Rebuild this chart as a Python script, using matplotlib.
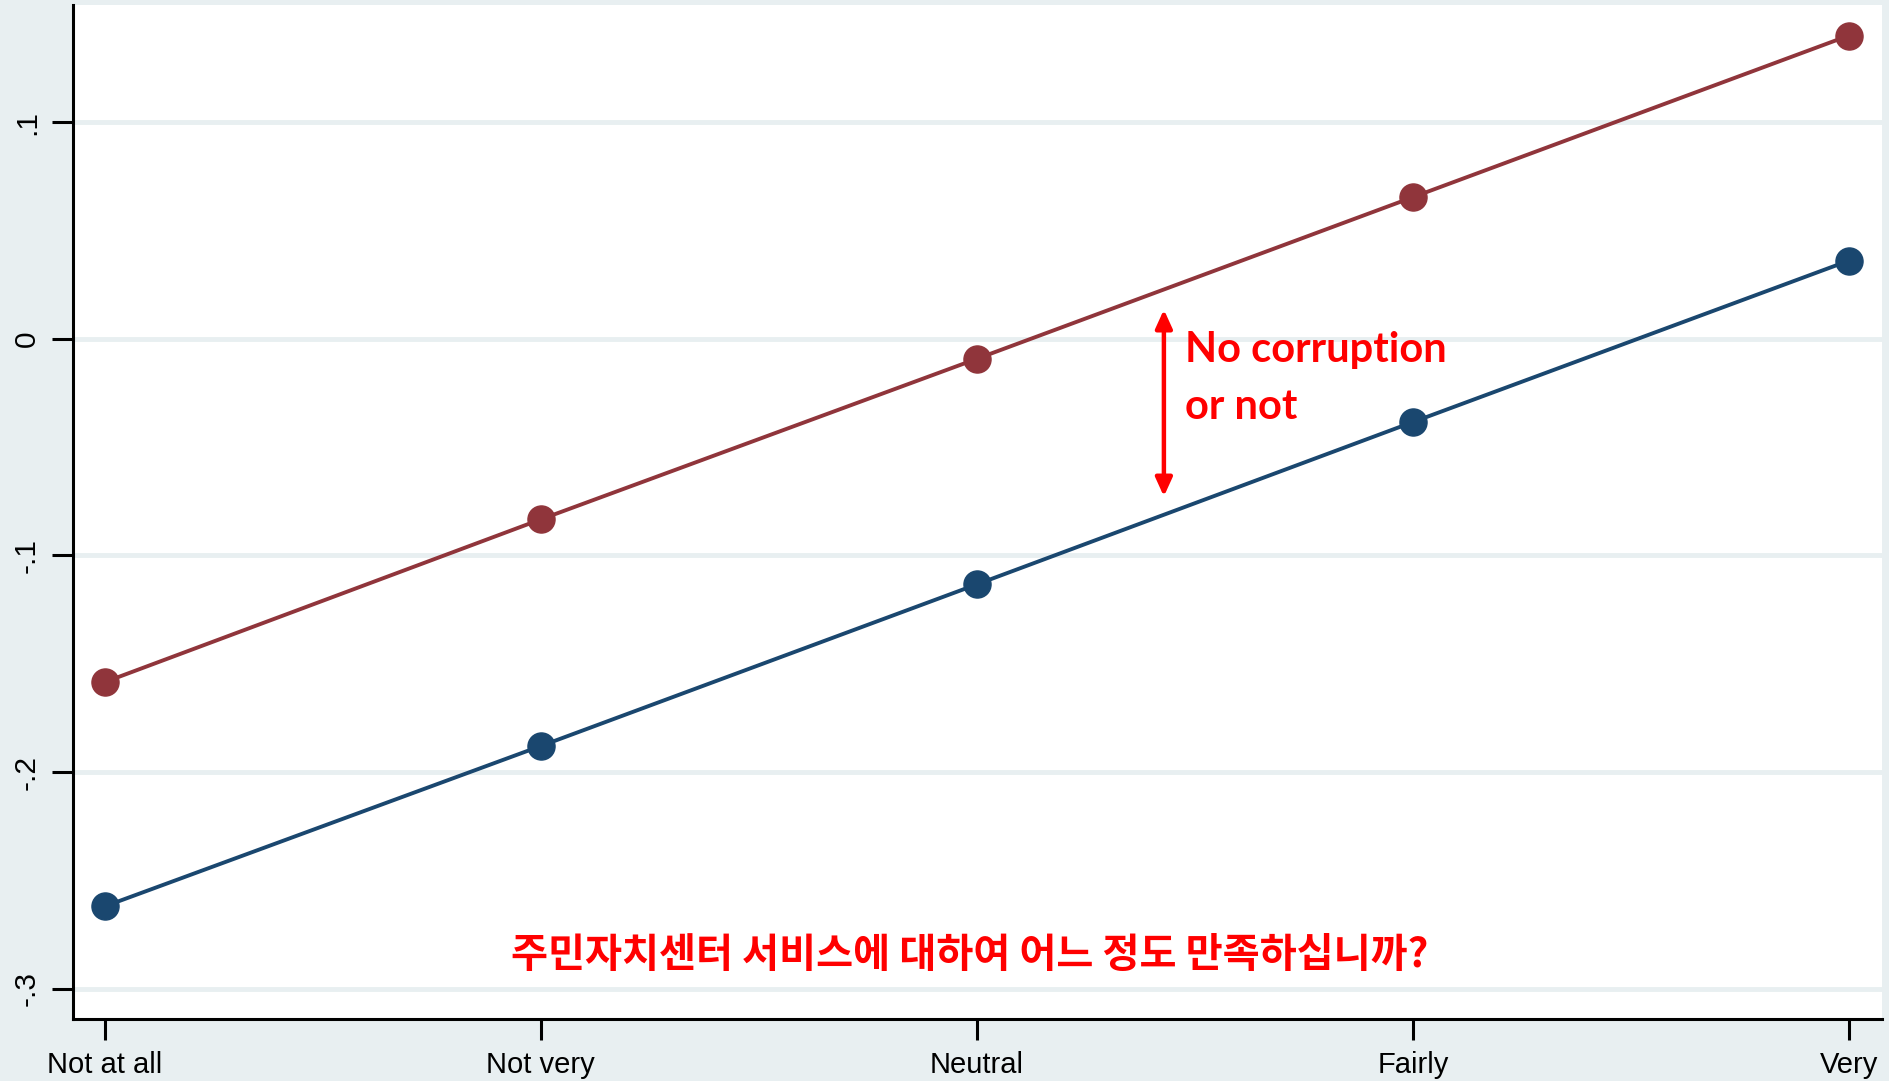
import matplotlib
matplotlib.use("Agg")
import matplotlib.pyplot as plt

categories = ["Not at all", "Not very", "Neutral", "Fairly", "Very"]
no_corruption = [-0.1585, -0.0834, -0.0093, 0.0653, 0.1399]
corruption = [-0.262, -0.188, -0.1134, -0.0385, 0.036]
yticks = [-0.3, -0.2, -0.1, 0, 0.1]
ytick_labels = ["-.3", "-.2", "-.1", "0", ".1"]

bg = "#e8eff1"
red_line = "#90353b"
blue_line = "#1a476f"

fig = plt.figure(figsize=(18.9, 10.81), dpi=100, facecolor=bg)
ax = fig.add_axes([73/1890, 1-1019/1081, (1882-73)/1890, (1019-5)/1081])
ax.set_facecolor("white")

x = list(range(len(categories)))
ax.plot(x, no_corruption, color=red_line, lw=2.8, marker="o", ms=19.5, zorder=3)
ax.plot(x, corruption, color=blue_line, lw=2.8, marker="o", ms=19.5, zorder=3)

ax.set_xlim(-0.073, 4.076)
ax.set_ylim(-0.314, 0.154)
ax.set_xticks(x)
ax.set_xticklabels(categories, fontsize=21, family="Liberation Sans")
ax.set_yticks(yticks)
ax.set_yticklabels(ytick_labels, fontsize=21.5, family="Liberation Sans", rotation=90, va="center")
ax.tick_params(axis="both", length=15, width=2.2, color="black", pad=8)
ax.yaxis.grid(True, color=bg, lw=3.5, zorder=0)
ax.set_axisbelow(True)
for s in ["top", "right"]:
    ax.spines[s].set_visible(False)
for s in ["left", "bottom"]:
    ax.spines[s].set_linewidth(2.2)
    ax.spines[s].set_color("black")

ax.annotate("", xy=(2.429, 0.0134), xytext=(2.429, -0.0728),
            arrowprops=dict(arrowstyle="<|-|>,head_length=1.1,head_width=0.5",
                            color="#ff0000", lw=3.2, shrinkA=0, shrinkB=0), zorder=4)
ax.text(2.477, -0.0051, "No corruption", color="#ff0000", fontsize=30,
        family="Lato", fontweight="bold", va="center", ha="left")
ax.text(2.477, -0.0314, "or not", color="#ff0000", fontsize=30,
        family="Lato", fontweight="bold", va="center", ha="left")
ax.text(1.984, -0.2845, "주민자치센터 서비스에 대하여 어느 정도 만족하십니까?", color="#ff0000",
        fontsize=29, family=["Noto Sans CJK KR", "DejaVu Sans"], fontweight="bold",
        ha="center", va="center")

fig.savefig("out.png", dpi=100, facecolor=bg)
